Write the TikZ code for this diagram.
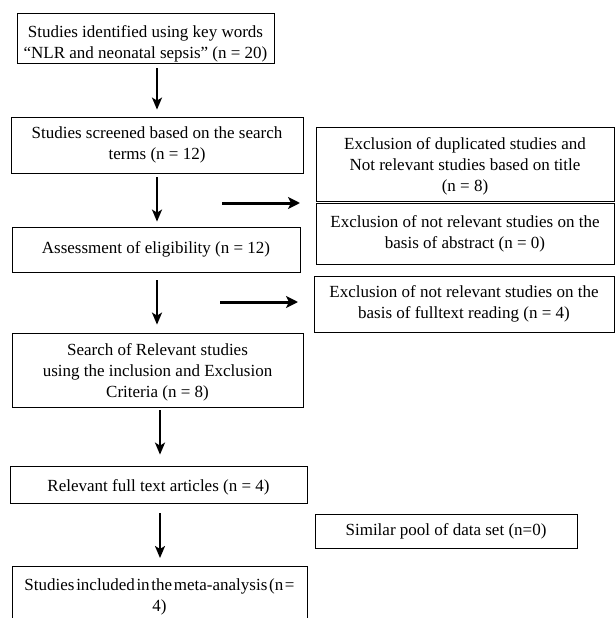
\documentclass[tikz,border=0pt]{standalone}
\usepackage{fontspec}
\setmainfont{Liberation Serif}
\usetikzlibrary{arrows.meta}
\begin{document}
\begin{tikzpicture}[x=1pt,y=-1pt,
    box/.style={draw,line width=0.8pt,align=center,inner sep=0pt,
      font=\fontsize{17}{21}\selectfont},
    down/.style={line width=2.2pt,-{Stealth[length=12pt,width=10pt,inset=3pt]}},
    side/.style={line width=3pt,-{Stealth[length=12pt,width=12pt,inset=3pt]}}]
  \useasboundingbox (0,0) rectangle (615,618);
  \clip (0,0) rectangle (615,618);

  %%%%%%%%%%%%%%%%%%%%%%%%%%%%%%%%%%%%%%%%%%%%%%%%%%%%%%%%%%%%%%%%%%%%%%%%%%%
  %%%%  Left column
  \node[box,minimum width=257,minimum height=50] (ident) at (145.5,38)
    {\rule{0pt}{24pt}Studies identified using key words\\“NLR and neonatal sepsis” (n = 20)};
  \node[box,minimum width=292,minimum height=56] (screen) at (157,145)
    {Studies screened based on the search\\terms (n = 12)};
  \node[box,minimum width=288,minimum height=45] (elig) at (156,249.5)
    {Assessment of eligibility (n = 12)};
  \node[box,minimum width=291,minimum height=74] (search) at (157.5,370)
    {\rule{0pt}{16pt}Search of Relevant studies\\using the inclusion and Exclusion\\Criteria (n = 8)};
  \node[box,minimum width=297,minimum height=37] (full) at (158.5,484.5)
    {\rule{0pt}{18pt}Relevant full text articles (n = 4)};
  \node[box,minimum width=295,minimum height=62,anchor=north] (meta) at (159.5,566)
    {\spaceskip=0.1em\relax Studies included in the meta-analysis (n =\\4)};

  %%%%%%%%%%%%%%%%%%%%%%%%%%%%%%%%%%%%%%%%%%%%%%%%%%%%%%%%%%%%%%%%%%%%%%%%%%%
  %%%%  Right column
  \node[box,minimum width=298,minimum height=74] (dupl) at (465,164)
    {\rule{0pt}{16pt}Exclusion of duplicated studies and\\Not relevant studies based on title\\(n = 8)};
  \node[box,minimum width=298,minimum height=61] (abst) at (465,233.5)
    {Exclusion of not relevant studies on the\\basis of abstract (n = 0)};
  \node[box,minimum width=300,minimum height=56] (fulltext) at (464,304)
    {Exclusion of not relevant studies on the\\basis of fulltext reading (n = 4)};
  \node[box,minimum width=262,minimum height=34] (pool) at (446,531)
    {Similar pool of data set (n=0)};

  %%%%%%%%%%%%%%%%%%%%%%%%%%%%%%%%%%%%%%%%%%%%%%%%%%%%%%%%%%%%%%%%%%%%%%%%%%%
  %%%%  Arrows
  \coordinate (colA) at (157,0);
  \coordinate (colB) at (160,0);
  \draw[down,shorten <=5pt,shorten >=7pt] (ident.south -| colA) -- (screen.north -| colA);
  \draw[down,shorten <=4pt,shorten >=5pt] (screen.south -| colA) -- (elig.north -| colA);
  \draw[down,shorten <=8pt,shorten >=8pt] (elig.south -| colA) -- (search.north -| colA);
  \draw[down,shorten <=3pt,shorten >=11pt] (search.south -| colB) -- (full.north -| colB);
  \draw[down,shorten <=10pt,shorten >=8pt] (full.south -| colB) -- (meta.north -| colB);

  \coordinate (out1) at (222,203);
  \coordinate (in1) at (300,203);
  \coordinate (out2) at (220,302);
  \coordinate (in2) at (298,302);
  \draw[side] (out1) -- (in1);
  \draw[side] (out2) -- (in2);
\end{tikzpicture}
\end{document}
